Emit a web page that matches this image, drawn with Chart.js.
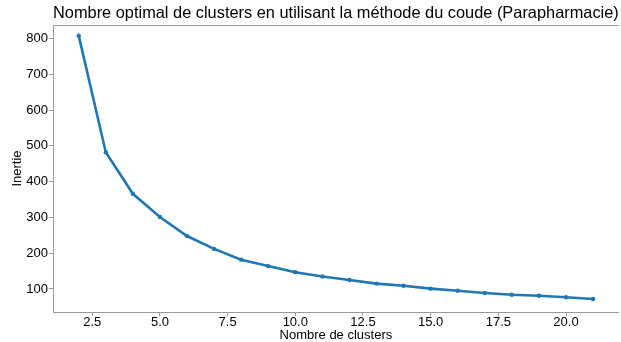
<!DOCTYPE html>
<html>
<head>
<meta charset="utf-8">
<script src="https://cdn.jsdelivr.net/npm/chart.js@4"></script>
<style>
  html, body { margin: 0; padding: 0; background: #fff; overflow: hidden; }
  #wrap { width: 621px; height: 342px; position: relative; }
</style>
</head>
<body>
<div id="wrap"><canvas id="c"></canvas></div>
<script>
// ---- data ----
const clusters = [2, 3, 4, 5, 6, 7, 8, 9, 10, 11, 12, 13, 14, 15, 16, 17, 18, 19, 20, 21];
const inertia = [808, 482, 366, 301, 248, 212, 182, 164, 147, 135, 125, 115, 109, 101, 95, 89, 84, 81, 77, 72];
const xTickValues = [2.5, 5.0, 7.5, 10.0, 12.5, 15.0, 17.5, 20.0];
const xTickLabels = ['2.5', '5.0', '7.5', '10.0', '12.5', '15.0', '17.5', '20.0'];
const yTickValues = [100, 200, 300, 400, 500, 600, 700, 800];
const yTickLabels = ['100', '200', '300', '400', '500', '600', '700', '800'];
const titleText = 'Nombre optimal de clusters en utilisant la méthode du coude (Parapharmacie)';
const xTitle = 'Nombre de clusters';
const yTitle = 'Inertie';

const FONT = "'Liberation Sans', Arial, sans-serif";
const SPINE = '#9a9a9a';

const spines = {
  id: 'spines',
  afterDraw(chart) {
    const {ctx, chartArea: a} = chart;
    ctx.save();
    ctx.strokeStyle = SPINE;
    ctx.lineWidth = 1;
    ctx.beginPath();
    ctx.moveTo(a.left, a.top + 0.5);
    ctx.lineTo(a.right, a.top + 0.5);
    ctx.stroke();
    ctx.restore();
  }
};

new Chart(document.getElementById('c'), {
  type: 'line',
  data: {
    datasets: [{
      data: clusters.map((x, i) => ({x: x, y: inertia[i]})),
      borderColor: '#1f77b4',
      backgroundColor: '#1f77b4',
      borderWidth: 2.6,
      pointRadius: 2.2,
      pointBorderWidth: 0,
      pointHoverRadius: 2.2,
      tension: 0,
      fill: false
    }]
  },
  options: {
    responsive: true,
    maintainAspectRatio: false,
    animation: false,
    layout: { padding: { left: 0, right: -4, top: 0, bottom: 0 } },
    plugins: {
      legend: { display: false },
      tooltip: { enabled: false },
      title: {
        display: true,
        text: titleText,
        fullSize: false,
        color: '#000',
        font: { family: FONT, size: 16.5, weight: 'normal', lineHeight: 1.2 },
        padding: { top: 4, bottom: 1.2 }
      }
    },
    scales: {
      x: {
        type: 'linear',
        min: 1.05,
        max: 21.95,
        afterBuildTicks: s => { s.ticks = xTickValues.map(v => ({value: v})); },
        afterFit: s => { s.height = 30; },
        ticks: {
          color: '#000',
          font: { family: FONT, size: 13, lineHeight: 1 },
          padding: 0,
          maxRotation: 0,
          autoSkip: false,
          callback: (v) => { const i = xTickValues.indexOf(v); return i >= 0 ? xTickLabels[i] : ''; }
        },
        grid: { drawOnChartArea: false, drawTicks: true, tickLength: 4, color: SPINE },
        border: { display: true, color: SPINE, width: 1 },
        title: {
          display: true, text: xTitle, color: '#000',
          font: { family: FONT, size: 13, lineHeight: 1 },
          padding: { top: 0, bottom: 0 }
        }
      },
      y: {
        type: 'linear',
        min: 35.7,
        max: 837.7,
        afterBuildTicks: s => { s.ticks = yTickValues.map(v => ({value: v})); },
        afterFit: s => { s.width = 53; },
        ticks: {
          color: '#000',
          font: { family: FONT, size: 13, lineHeight: 1 },
          padding: 1,
          autoSkip: false,
          callback: (v) => { const i = yTickValues.indexOf(v); return i >= 0 ? yTickLabels[i] : ''; }
        },
        grid: { drawOnChartArea: false, drawTicks: true, tickLength: 4, color: SPINE },
        border: { display: true, color: SPINE, width: 1 },
        title: {
          display: true, text: yTitle, color: '#000',
          font: { family: FONT, size: 13, lineHeight: 1.2 },
          padding: { top: 10, bottom: 0 }
        }
      }
    }
  },
  plugins: [spines]
});
</script>
</body>
</html>
